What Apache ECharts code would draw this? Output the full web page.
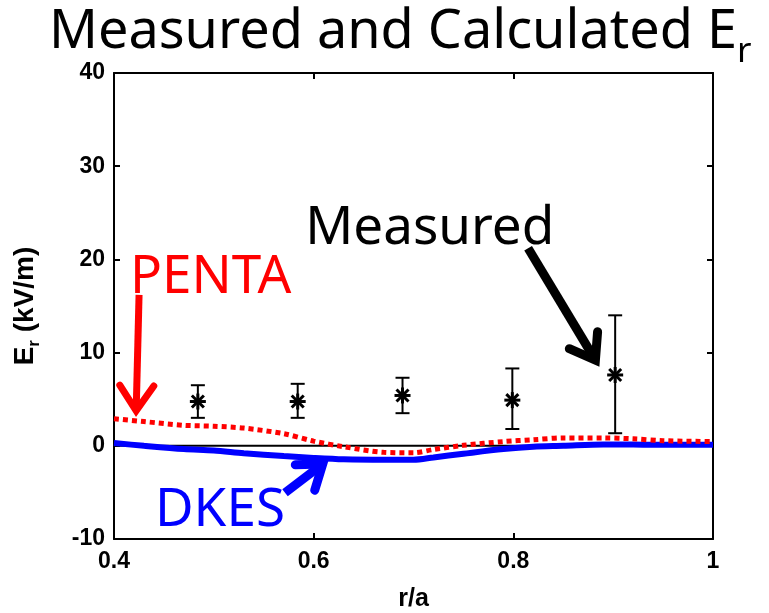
<!DOCTYPE html>
<html>
<head>
<meta charset="utf-8">
<script src="https://cdn.jsdelivr.net/npm/echarts@6/dist/echarts.min.js"></script>
<style>
  html, body { margin: 0; padding: 0; background: #fff; }
  #chart { width: 769px; height: 613px; }
</style>
</head>
<body>
<div id="chart"></div>
<script>
// Normalised radius r/a shared by both calculated profiles
const rGrid = [0.40, 0.43, 0.47, 0.50, 0.53, 0.57, 0.60, 0.63, 0.67, 0.70,
               0.72, 0.75, 0.79, 0.82, 0.85, 0.89, 0.92, 0.95, 1.00];
// PENTA calculated E_r (kV/m)
const pentaEr = [2.9, 2.6, 2.2, 2.1, 1.9, 1.3, 0.5, -0.1, -0.7, -0.75,
                 -0.4, 0.05, 0.45, 0.65, 0.85, 0.85, 0.75, 0.55, 0.45];
// DKES calculated E_r (kV/m)
const dkesEr = [0.3, 0.0, -0.35, -0.5, -0.8, -1.1, -1.3, -1.45, -1.5, -1.5,
                -1.25, -0.85, -0.35, -0.1, 0.0, 0.15, 0.15, 0.1, 0.1];
// Measured E_r with error bar limits
const measR  = [0.484, 0.584, 0.689, 0.799, 0.902];
const measEr = [4.75, 4.75, 5.4, 4.9, 7.6];
const measLo = [3.0, 3.0, 3.5, 1.8, 1.35];
const measHi = [6.5, 6.65, 7.3, 8.3, 14.0];
// Axis ranges and ticks
const xTicks = [0.4, 0.6, 0.8, 1.0];
const yTicks = [-10, 0, 10, 20, 30, 40];

const chart = echarts.init(document.getElementById('chart'), null, { renderer: 'canvas' });

const AXIS_FONT = '"Liberation Sans", Arial, sans-serif';
const NOTE_FONT = '"Noto Sans", "Open Sans", sans-serif';

function axisBase(show) {
  return {
    axisLine: { show: true, onZero: false, lineStyle: { color: '#000', width: 2 } },
    axisTick: { show: true, inside: true, length: 6, lineStyle: { color: '#000', width: 2 } },
    splitLine: { show: false },
    axisLabel: show ? {
      color: '#000', fontFamily: AXIS_FONT, fontWeight: 'bold', fontSize: 23
    } : { show: false }
  };
}

const xMin = xTicks[0], xMax = xTicks[xTicks.length - 1];
const yMin = yTicks[0], yMax = yTicks[yTicks.length - 1];
const xStep = xTicks[1] - xTicks[0], yStep = yTicks[1] - yTicks[0];

const option = {
  backgroundColor: '#fff',
  animation: false,
  grid: { left: 114, right: 56, top: 73, bottom: 74, containLabel: false, outerBoundsMode: 'none' },
  xAxis: [
    Object.assign(axisBase(true), {
      type: 'value', position: 'bottom', min: xMin, max: xMax, interval: xStep,
      name: 'r/a', nameLocation: 'middle', nameGap: 48,
      nameTextStyle: { color: '#000', fontFamily: AXIS_FONT, fontWeight: 'bold', fontSize: 25 },
      axisLabel: { color: '#000', fontFamily: AXIS_FONT, fontWeight: 'bold', fontSize: 23, margin: 11,
                   formatter: v => String(+v.toFixed(1)) }
    }),
    Object.assign(axisBase(false), {
      type: 'value', position: 'top', min: xMin, max: xMax, interval: xStep
    })
  ],
  yAxis: [
    Object.assign(axisBase(true), {
      type: 'value', position: 'left', min: yMin, max: yMax, interval: yStep,
      name: '{a|E}{b|r}{a| (kV/m)}', nameLocation: 'middle', nameGap: 71, nameRotate: 90,
      nameTextStyle: {
        rich: {
          a: { color: '#000', fontFamily: AXIS_FONT, fontWeight: 'bold', fontSize: 28, lineHeight: 28, verticalAlign: 'top' },
          b: { color: '#000', fontFamily: AXIS_FONT, fontWeight: 'bold', fontSize: 17, lineHeight: 32, verticalAlign: 'bottom' }
        }
      },
      axisLabel: { color: '#000', fontFamily: AXIS_FONT, fontWeight: 'bold', fontSize: 23, margin: 9 }
    }),
    Object.assign(axisBase(false), {
      type: 'value', position: 'right', min: yMin, max: yMax, interval: yStep
    })
  ],
  series: [
    {
      name: 'zero', type: 'line', silent: true, symbol: 'none',
      data: [[xMin, 0], [xMax, 0]],
      lineStyle: { color: '#000', width: 2 }, z: 1
    },
    {
      name: 'PENTA', type: 'line', symbol: 'none', smooth: 0.3,
      data: rGrid.map((r, i) => [r, pentaEr[i]]),
      lineStyle: { color: '#ff0000', width: 5, type: [5, 4], cap: 'butt' }, z: 3
    },
    {
      name: 'DKES', type: 'line', symbol: 'none', smooth: 0.3,
      data: rGrid.map((r, i) => [r, dkesEr[i]]),
      lineStyle: { color: '#0000ff', width: 6 }, z: 2
    },
    {
      name: 'Measured', type: 'custom', z: 4,
      data: measR.map((r, i) => [r, measEr[i], measLo[i], measHi[i]]),
      encode: { x: 0, y: 1 },
      renderItem: function (params, api) {
        const x = api.value(0);
        const c = api.coord([x, api.value(1)]);
        const lo = api.coord([x, api.value(2)]);
        const hi = api.coord([x, api.value(3)]);
        const cap = 7, s = 8, d = 6;
        const mk = (x1, y1, x2, y2, w) => ({
          type: 'line', shape: { x1, y1, x2, y2 },
          style: { stroke: '#000', lineWidth: w || 2 }
        });
        return {
          type: 'group',
          children: [
            mk(c[0], lo[1], c[0], hi[1]),
            mk(c[0] - cap, lo[1], c[0] + cap, lo[1]),
            mk(c[0] - cap, hi[1], c[0] + cap, hi[1]),
            // asterisk marker
            mk(c[0], c[1] - s, c[0], c[1] + s, 3),
            mk(c[0] - s, c[1], c[0] + s, c[1], 3),
            mk(c[0] - d, c[1] - d, c[0] + d, c[1] + d, 3),
            mk(c[0] - d, c[1] + d, c[0] + d, c[1] - d, 3)
          ]
        };
      }
    }
  ]
};

chart.setOption(option);

// Annotation anchors in data units (r/a, kV/m)
const notes = [
  { text: 'PENTA',    color: '#ff0000', at: [0.416, 18.45] },
  { text: 'Measured', color: '#000000', at: [0.5915, 23.7] },
  { text: 'DKES',     color: '#0000ff', at: [0.441, -6.6] }
];
const arrows = [
  { color: '#ff0000', from: [0.4251, 16.2], to: [0.4221, 3.3], width: 7, head: 34 },
  { color: '#000000', from: [0.8148, 21.2], to: [0.885, 8.7],  width: 9, head: 33 },
  { color: '#0000ff', from: [0.5713, -5.04], to: [0.6134, -1.6], width: 9, head: 32 }
];

function px(p) { return chart.convertToPixel({ xAxisIndex: 0, yAxisIndex: 0 }, p); }

const graphics = [];

// Title with subscript r
graphics.push({
  type: 'text', left: 49, top: 6, z: 10,
  style: {
    text: '{t|Measured and Calculated E}{s|r}',
    rich: {
      t: { fill: '#000', fontFamily: NOTE_FONT, fontSize: 54, lineHeight: 54, verticalAlign: 'top' },
      s: { fill: '#000', fontFamily: NOTE_FONT, fontSize: 35, lineHeight: 64, verticalAlign: 'bottom' }
    }
  }
});

notes.forEach(n => {
  const p = px(n.at);
  graphics.push({
    type: 'text', x: p[0], y: p[1] + 4, z: 10,
    style: {
      text: n.text, fill: n.color, fontFamily: NOTE_FONT, fontSize: 53,
      align: 'left', verticalAlign: 'middle'
    }
  });
});

arrows.forEach(a => {
  const t = px(a.from), h = px(a.to);
  const dx = h[0] - t[0], dy = h[1] - t[1];
  const len = Math.hypot(dx, dy);
  const ux = dx / len, uy = dy / len;
  const hl = a.head, ang = 30 * Math.PI / 180;
  const cos = Math.cos(ang), sin = Math.sin(ang);
  // wings: rotate the reversed direction by +/- ang
  const bx = -ux, by = -uy;
  const w1 = [h[0] + hl * (bx * cos - by * sin), h[1] + hl * (bx * sin + by * cos)];
  const w2 = [h[0] + hl * (bx * cos + by * sin), h[1] + hl * (-bx * sin + by * cos)];
  const tipIn = [h[0] - ux * a.width * 0.6, h[1] - uy * a.width * 0.6];
  graphics.push({
    type: 'line', z: 9,
    shape: { x1: t[0], y1: t[1], x2: tipIn[0], y2: tipIn[1] },
    style: { stroke: a.color, lineWidth: a.width, lineCap: 'butt' }
  });
  graphics.push({
    type: 'polyline', z: 9,
    shape: { points: [w1, tipIn, w2] },
    style: { stroke: a.color, fill: null, lineWidth: a.width, lineCap: 'round', lineJoin: 'miter' }
  });
});

chart.setOption({ graphic: graphics });
</script>
</body>
</html>
